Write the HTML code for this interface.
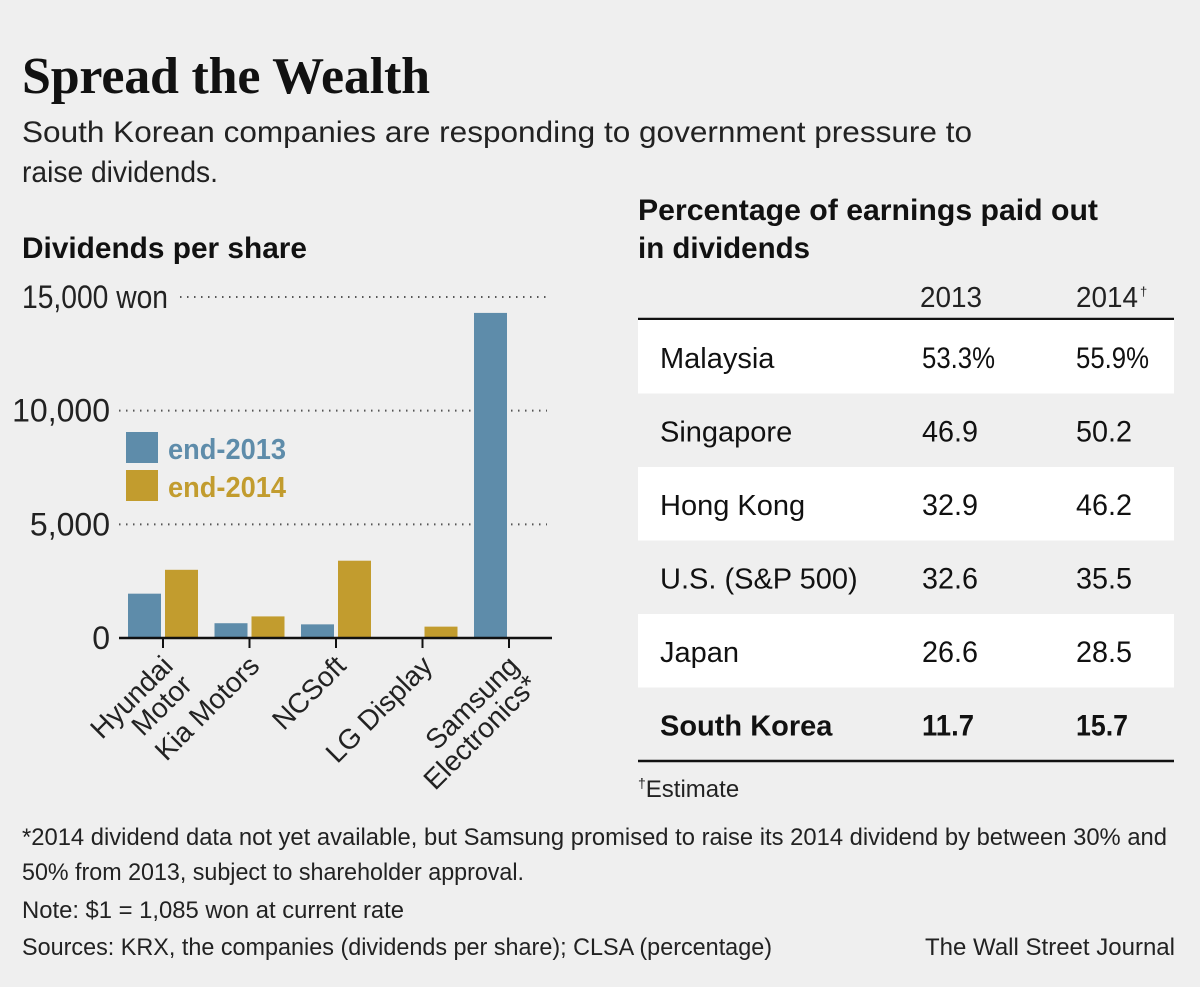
<!DOCTYPE html>
<html><head><meta charset="utf-8"><style>
html,body{margin:0;padding:0;background:#efefef;}
svg{display:block;font-family:"Liberation Sans",sans-serif;}
</style></head><body>
<svg id="c" width="1200" height="987" viewBox="0 0 1200 987">
<rect width="1200" height="987" fill="#efefef"/>
<text x="22" y="93" font-family="Liberation Serif,serif" font-weight="bold" font-size="52" fill="#111" textLength="408">Spread the Wealth</text>
<text x="22" y="142" font-size="30" fill="#222" textLength="950" lengthAdjust="spacingAndGlyphs">South Korean companies are responding to government pressure to</text>
<text x="22" y="182" font-size="30" fill="#222" textLength="196" lengthAdjust="spacingAndGlyphs">raise dividends.</text>
<text x="22" y="258" font-size="30" font-weight="bold" fill="#111" textLength="285" lengthAdjust="spacingAndGlyphs">Dividends per share</text>
<g id="bars"></g>
<text x="638" y="220" font-size="30" font-weight="bold" fill="#111" textLength="460" lengthAdjust="spacingAndGlyphs">Percentage of earnings paid out</text>
<text x="638" y="258" font-size="30" font-weight="bold" fill="#111" textLength="172" lengthAdjust="spacingAndGlyphs">in dividends</text>
<g id="tbl"></g>
<text x="638" y="797" font-size="24" fill="#222"><tspan font-size="14" dy="-9">†</tspan><tspan dy="9">Estimate</tspan></text>
<text x="22" y="845" font-size="24" fill="#222" textLength="1145" lengthAdjust="spacingAndGlyphs">*2014 dividend data not yet available, but Samsung promised to raise its 2014 dividend by between 30% and</text>
<text x="22" y="880" font-size="24" fill="#222" textLength="502" lengthAdjust="spacingAndGlyphs">50% from 2013, subject to shareholder approval.</text>
<text x="22" y="918" font-size="24" fill="#222" textLength="382" lengthAdjust="spacingAndGlyphs">Note: $1 = 1,085 won at current rate</text>
<text x="22" y="955" font-size="24" fill="#222" textLength="750" lengthAdjust="spacingAndGlyphs">Sources: KRX, the companies (dividends per share); CLSA (percentage)</text>
<text x="1175" y="955" font-size="24" fill="#222" text-anchor="end" textLength="250" lengthAdjust="spacingAndGlyphs">The Wall Street Journal</text>
</svg>
<script>
const categories=["Hyundai Motor","Kia Motors","NCSoft","LG Display","Samsung Electronics*"];
const labelLines=[["Hyundai","Motor"],["Kia Motors"],["NCSoft"],["LG Display"],["Samsung","Electronics*"]];
const values2013=[1950,650,600,0,14300];
const values2014=[3000,950,3400,500,null];
const yTicks=[0,5000,10000,15000];
const yTickLabels=["0","5,000","10,000","15,000 won"];
const rowNames=["Malaysia","Singapore","Hong Kong","U.S. (S&P 500)","Japan","South Korea"];
const col2013=["53.3%","46.9","32.9","32.6","26.6","11.7"];
const col2014=["55.9%","50.2","46.2","35.5","28.5","15.7"];

const NS="http://www.w3.org/2000/svg";
function mk(p,t,a,txt){const e=document.createElementNS(NS,t);for(const k in a)e.setAttribute(k,a[k]);if(txt!=null)e.textContent=txt;p.appendChild(e);return e;}
const y0=638,y1=297,vmax=15000;
const Y=v=>y0-(v/vmax)*(y0-y1);
const X=i=>163+i*86.5;
const g=document.getElementById('bars');
yTicks.forEach((t,i)=>{
  if(t>0){const l=mk(g,'line',{x1:i==3?180:119,x2:547,y1:Y(t),y2:Y(t),stroke:'#555','stroke-width':2,'stroke-dasharray':'1.5 5.5'});
  
  }
  const tx=mk(g,'text',{x:i==3?22:110,y:Y(t)+11,'font-size':32,fill:'#222','text-anchor':i==3?'start':'end'},yTickLabels[i]);
  if(i==3){tx.setAttribute('textLength','146');tx.setAttribute('lengthAdjust','spacingAndGlyphs');}
  
  
});
categories.forEach((c,i)=>{
  const cx=X(i);
  if(values2013[i]){const r=mk(g,'rect',{x:cx-35,y:Y(values2013[i]),width:33,height:y0-Y(values2013[i]),fill:'#5e8caa'});
  
  }
  if(values2014[i]){const r=mk(g,'rect',{x:cx+2,y:Y(values2014[i]),width:33,height:y0-Y(values2014[i]),fill:'#c29c2e'});
  
  }
  mk(g,'line',{x1:cx,x2:cx,y1:y0,y2:648,stroke:'#111','stroke-width':2});
  const lines=labelLines[i];
  const t=mk(g,'text',{transform:`translate(${cx-4},${652}) rotate(-45)`,'font-size':28,fill:'#222','text-anchor':'end'});
  
  
  lines.forEach((ln,j)=>{mk(t,'tspan',{x:0,y:22+j*27},ln);});
});
const ax=mk(g,'line',{x1:119,x2:552,y1:y0,y2:y0,stroke:'#111','stroke-width':2.5});


[['end-2013','#5e8caa',432],['end-2014','#c29c2e',470]].forEach(([lab,col,yy])=>{
  const lg=mk(g,'g',{});
  
  
  mk(lg,'rect',{x:126,y:yy,width:32,height:31,fill:col});
  mk(lg,'text',{x:168,y:yy+27,'font-size':29,'font-weight':'bold',fill:col,textLength:118,lengthAdjust:'spacingAndGlyphs'},lab);
});
const tb=document.getElementById('tbl');
const h1=mk(tb,'text',{x:920,y:307,'font-size':29,fill:'#222',textLength:62,lengthAdjust:'spacingAndGlyphs'},'2013');


const h2=mk(tb,'text',{x:1076,y:307,'font-size':29,fill:'#222',textLength:62,lengthAdjust:'spacingAndGlyphs'},'2014');


mk(tb,'text',{x:1140,y:296,'font-size':13,fill:'#222'},'†');
mk(tb,'line',{x1:638,x2:1174,y1:319,y2:319,stroke:'#111','stroke-width':2.5});
rowNames.forEach((n,i)=>{
  const top=320+i*73.5;
  const row=mk(tb,'g',{});
  
  
  mk(row,'rect',{x:638,y:top,width:536,height:73.5,fill:i%2==0?'#ffffff':'#efefef'});
  const b=i==5?'bold':'normal';
  mk(row,'text',{x:660,y:top+48,'font-size':29,'font-weight':b,fill:'#111'},n);
  const w=i==0?73:(i==5?52:56);
  mk(row,'text',{x:922,y:top+48,'font-size':30,'font-weight':b,fill:'#111',textLength:w,lengthAdjust:'spacingAndGlyphs'},col2013[i]);
  mk(row,'text',{x:1076,y:top+48,'font-size':30,'font-weight':b,fill:'#111',textLength:w,lengthAdjust:'spacingAndGlyphs'},col2014[i]);
});
mk(tb,'line',{x1:638,x2:1174,y1:761,y2:761,stroke:'#111','stroke-width':2.5});
</script>
</body></html>
